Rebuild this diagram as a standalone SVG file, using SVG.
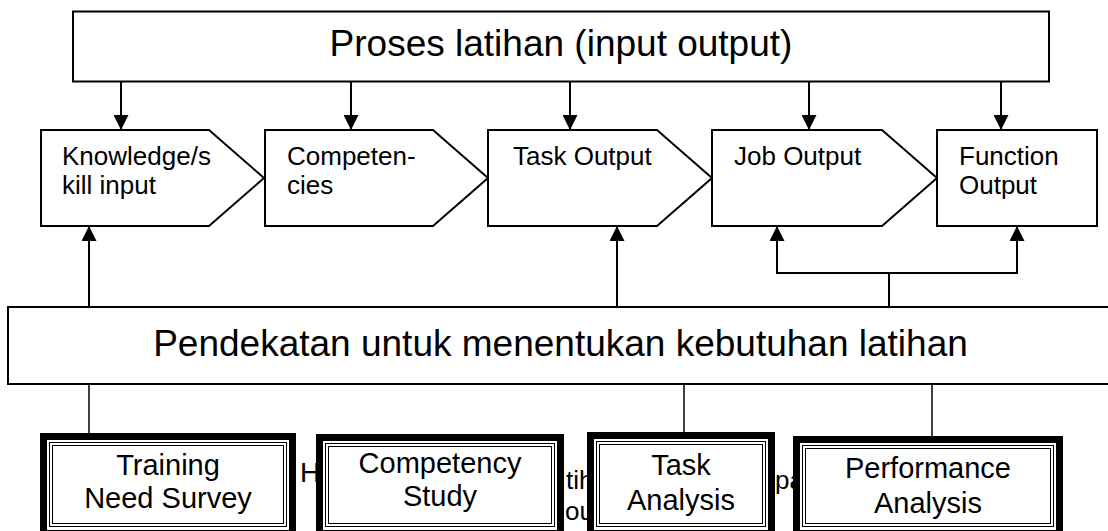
<svg xmlns="http://www.w3.org/2000/svg" width="1108" height="531" viewBox="0 0 1108 531">
  <style>
    text { font-family: "Liberation Sans", Arial, sans-serif; fill: #000; }
    .big { font-size: 37px; }
    .mid { font-size: 26px; }
    .bx { font-size: 29px; text-anchor: middle; }
    .shape { fill: #fff; stroke: #000; stroke-width: 2; }
    .thick { fill: #fff; stroke: #000; stroke-width: 7; }
    .thin { fill: none; stroke: #000; stroke-width: 1; }
    .wire { fill: none; stroke: #000; stroke-width: 2; }
    .link { fill: none; stroke: #000; stroke-width: 1.5; }
  </style>
  <defs>
    <marker id="arrow" viewBox="0 0 10 10" refX="10" refY="5" markerUnits="userSpaceOnUse" markerWidth="15" markerHeight="15" orient="auto">
      <path d="M0,0 L10,5 L0,10 z" fill="#000"/>
    </marker>
  </defs>
  <rect width="1108" height="531" fill="#fff"/>

  <!-- caption fragments partly covered by the approach boxes -->
  <g id="caption">
    <text class="mid" x="300" y="482" style="font-size:28px">H</text>
    <text class="mid" x="566" y="489">tih</text>
    <text class="mid" x="565" y="520">ou</text>
    <text class="mid" x="775" y="489">pa</text>
  </g>

  <g id="connectors">
    <!-- process box down to each stage -->
    <line class="wire" x1="121" y1="82" x2="121" y2="130" marker-end="url(#arrow)"/>
    <line class="wire" x1="351" y1="82" x2="351" y2="130" marker-end="url(#arrow)"/>
    <line class="wire" x1="570" y1="82" x2="570" y2="130" marker-end="url(#arrow)"/>
    <line class="wire" x1="809" y1="82" x2="809" y2="130" marker-end="url(#arrow)"/>
    <line class="wire" x1="1001" y1="82" x2="1001" y2="130" marker-end="url(#arrow)"/>
    <!-- approach bar up to stages -->
    <line class="wire" x1="89" y1="307" x2="89" y2="226" marker-end="url(#arrow)"/>
    <line class="wire" x1="617" y1="307" x2="617" y2="226" marker-end="url(#arrow)"/>
    <path class="wire" d="M889,307 V273"/>
    <path class="wire" d="M889,273 H777 V226" marker-end="url(#arrow)"/>
    <path class="wire" d="M889,273 H1017 V226" marker-end="url(#arrow)"/>
    <!-- approach bar down to methods -->
    <line class="link" x1="89" y1="384" x2="89" y2="434"/>
    <line class="link" x1="684" y1="384" x2="684" y2="433"/>
    <line class="link" x1="932" y1="384" x2="932" y2="437"/>
  </g>

  <g id="process">
    <rect class="shape" x="73" y="11.5" width="976" height="70"/>
    <text class="big" x="561" y="56" text-anchor="middle">Proses latihan (input output)</text>
  </g>

  <g id="knowledge">
    <polygon class="shape" points="41,130 209,130 264,178 209,226 41,226"/>
    <text class="mid" x="62" y="165">Knowledge/s</text>
    <text class="mid" x="62" y="194">kill input</text>
  </g>
  <g id="competencies">
    <polygon class="shape" points="265,130 433,130 488,178 433,226 265,226"/>
    <text class="mid" x="287" y="165">Competen-</text>
    <text class="mid" x="287" y="194">cies</text>
  </g>
  <g id="task-output">
    <polygon class="shape" points="488,130 657,130 712,178 657,226 488,226"/>
    <text class="mid" x="513" y="165">Task Output</text>
  </g>
  <g id="job-output">
    <polygon class="shape" points="712,130 882,130 937,178 882,226 712,226"/>
    <text class="mid" x="734" y="165">Job Output</text>
  </g>
  <g id="function-output">
    <rect class="shape" x="937" y="130" width="160" height="96"/>
    <text class="mid" x="959" y="165">Function</text>
    <text class="mid" x="959" y="194">Output</text>
  </g>

  <g id="approach">
    <rect class="shape" x="8" y="307" width="1110" height="77"/>
    <text class="big" x="560.5" y="356" text-anchor="middle">Pendekatan untuk menentukan kebutuhan latihan</text>
  </g>

  <g id="training-need-survey">
    <rect class="thick" x="43.5" y="436.5" width="249" height="97"/>
    <rect class="thin" x="49.5" y="442.5" width="237" height="84"/>
    <rect class="thin" x="52.5" y="445.5" width="231" height="78"/>
    <text class="bx" x="168" y="475">Training</text>
    <text class="bx" x="168" y="508">Need Survey</text>
  </g>
  <g id="competency-study">
    <rect class="thick" x="319.5" y="437.5" width="241" height="96"/>
    <rect class="thin" x="325.5" y="443.5" width="229" height="83"/>
    <rect class="thin" x="328.5" y="446.5" width="223" height="77"/>
    <text class="bx" x="440" y="473">Competency</text>
    <text class="bx" x="440" y="506">Study</text>
  </g>
  <g id="task-analysis">
    <rect class="thick" x="590.5" y="435.5" width="181" height="98"/>
    <rect class="thin" x="596.5" y="441.5" width="169" height="85"/>
    <rect class="thin" x="599.5" y="444.5" width="163" height="79"/>
    <text class="bx" x="681" y="475">Task</text>
    <text class="bx" x="681" y="510">Analysis</text>
  </g>
  <g id="performance-analysis">
    <rect class="thick" x="796.5" y="439.5" width="263" height="94"/>
    <rect class="thin" x="802.5" y="445.5" width="251" height="81"/>
    <rect class="thin" x="805.5" y="448.5" width="245" height="75"/>
    <text class="bx" x="928" y="478">Performance</text>
    <text class="bx" x="928" y="513">Analysis</text>
  </g>
</svg>
